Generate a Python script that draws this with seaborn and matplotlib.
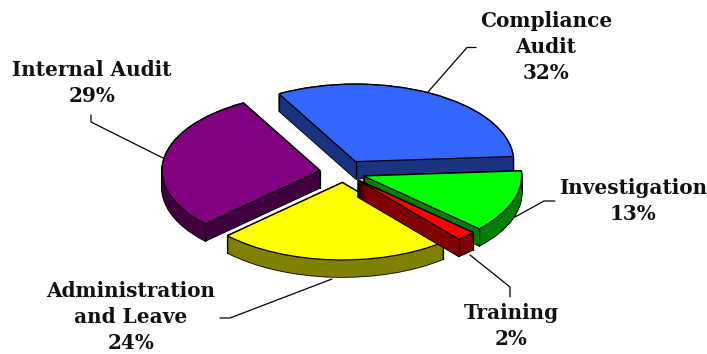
import matplotlib
matplotlib.use("Agg")
import matplotlib.pyplot as plt
from matplotlib.patches import Wedge
import seaborn as sns

categories = ["Compliance\nAudit", "Investigation", "Training", "Administration\nand Leave", "Internal Audit"]
shares = [32, 13, 2, 24, 29]
top_colors = ["#3366FF", "#00FF00", "#FF0000", "#FFFF00", "#800080"]
side_colors = ["#1A3380", "#008000", "#800000", "#808000", "#400040"]
explode = [0.16, 0.135, 0.13, 0.13, 0.15]
draw_rank = [0, 2, 4, 3, 1]  # back slices first

label_xy = [(546, 47), (633, 201), (511, 326), (131, 317), (92, 83)]
leaders = [
    [(476, 47.5), (467, 47.5), (428, 92)],
    [(555, 201), (544, 201), (515, 217)],
    [(510, 297), (510, 287), (470, 255)],
    [(220, 318), (230, 318), (332, 279)],
    [(91, 115), (91, 122), (163, 158)],
]

sns.set_theme(style="white")
plt.rcParams["font.family"] = ["DejaVu Serif"]

SQUASH = 0.49
DEPTH = 17
RADIUS = 158
W, H = 707, 354

fig = plt.figure(figsize=(W / 100, H / 100), dpi=100, facecolor="white")
ax = fig.add_axes([0, 0, 1, 1])

wedges, _ = ax.pie(
    shares,
    colors=top_colors,
    explode=[e * RADIUS for e in explode],
    startangle=119,
    counterclock=False,
    radius=RADIUS,
    center=(343.5, (H - 172.5) / SQUASH),
    wedgeprops={"edgecolor": "black", "linewidth": 0.9},
)
ax.set_aspect("auto")
ax.set_xlim(0, W)
ax.set_ylim(0, H / SQUASH)
ax.axis("off")

# Extrude each slice downward: a black-edged stack, a coloured stack over it,
# then the vertical corner edges, with the top face last.
for wedge, side, rank in zip(wedges, side_colors, draw_rank):
    base = rank * 10
    (cx, cy), r, t1, t2 = wedge.center, wedge.r, wedge.theta1, wedge.theta2
    for d in range(DEPTH + 1):
        y = cy - d / SQUASH
        ax.add_patch(Wedge((cx, y), r, t1, t2, facecolor="black", edgecolor="black",
                           linewidth=1.2, zorder=base + 1))
        ax.add_patch(Wedge((cx, y), r, t1, t2, facecolor=side, edgecolor="none",
                           linewidth=0, zorder=base + 2))
    wedge.set_zorder(base + 4)
    corners = [(cx, cy)]
    for theta in (t1, t2):
        w = Wedge((cx, cy), r, theta, theta + 0.01)
        corners.append(tuple(w.get_patch_transform().transform(w.get_path().vertices)[0]))
    for (px, py) in corners:
        ax.plot([px, px], [py, py - DEPTH / SQUASH], color="black", lw=0.9, zorder=base + 3)

# Leader lines and labels sit in an overlay measured in figure pixels.
over = fig.add_axes([0, 0, 1, 1], facecolor="none")
over.set_xlim(0, W)
over.set_ylim(H, 0)
over.axis("off")
for path in leaders:
    over.plot([p[0] for p in path], [p[1] for p in path], color="black", lw=0.9)
for name, share, (x, y) in zip(categories, shares, label_xy):
    over.text(x, y, f"{name}\n{share}%", ha="center", va="center", fontsize=14.4,
              fontweight="bold", color="#111111", linespacing=1.37)

fig.savefig("out.png", dpi=100)
